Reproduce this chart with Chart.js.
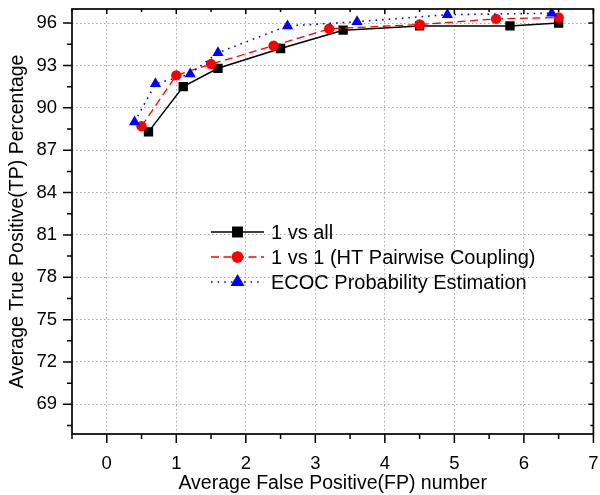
<!DOCTYPE html>
<html>
<head>
<meta charset="utf-8">
<script src="https://cdn.jsdelivr.net/npm/chart.js@4.4.0/dist/chart.umd.min.js"></script>
<style>
    html, body { margin: 0; padding: 0; background: #fff; }
    #wrap { width: 600px; height: 495px; }
</style>
</head>
<body>
<div id="wrap"><canvas id="chartCanvas" width="600" height="495"></canvas></div>
<script>
// data
const seriesNames = ['1 vs all', '1 vs 1 (HT Pairwise Coupling)', 'ECOC Probability Estimation'];
const oneVsAllX = [0.6, 1.1, 1.6, 2.5, 3.4, 4.5, 5.8, 6.5];
const oneVsAllY = [88.3, 91.5, 92.8, 94.2, 95.5, 95.8, 95.8, 96.0];
const oneVsOneX = [0.5, 1.0, 1.5, 2.4, 3.2, 4.5, 5.6, 6.5];
const oneVsOneY = [88.7, 92.3, 93.1, 94.4, 95.6, 95.9, 96.3, 96.4];
const ecocX = [0.4, 0.7, 1.2, 1.6, 2.6, 3.6, 4.9, 6.4];
const ecocY = [89.0, 91.7, 92.4, 93.9, 95.8, 96.1, 96.6, 96.7];
const xTicks = [0, 1, 2, 3, 4, 5, 6, 7];
const yTicks = [69, 72, 75, 78, 81, 84, 87, 90, 93, 96];

const FONT = '"Liberation Sans", Arial, sans-serif';

function toPoints(xs, ys) {
    return xs.map((x, i) => ({ x: x, y: ys[i] }));
}

// frame, tick marks and the in-plot legend
const framePlugin = {
    id: 'frame',
    afterDraw(chart) {
        const ctx = chart.ctx;
        const a = chart.chartArea;
        const xs = chart.scales.x, ys = chart.scales.y;
        ctx.save();
        ctx.strokeStyle = '#000';
        ctx.lineWidth = 1.7;
        ctx.setLineDash([]);
        ctx.strokeRect(a.left, a.top, a.right - a.left, a.bottom - a.top);

        ctx.lineWidth = 1.5;
        ctx.beginPath();
        // x ticks: majors at labels, minors halfway
        for (let v = xs.min; v <= xs.max + 1e-6; v += 0.5) {
            const px = xs.getPixelForValue(v);
            const major = Math.abs(v - Math.round(v)) < 1e-6;
            ctx.moveTo(px, a.bottom); ctx.lineTo(px, a.bottom + (major ? 9 : 5));
            ctx.moveTo(px, a.top); ctx.lineTo(px, a.top + (major ? 5 : 3));
        }
        // y ticks every 1.5
        for (let v = 67.5; v <= ys.max + 1e-6; v += 1.5) {
            const py = ys.getPixelForValue(v);
            const major = yTicks.indexOf(Math.round(v * 10) / 10) >= 0;
            ctx.moveTo(a.left, py); ctx.lineTo(a.left - (major ? 9 : 5), py);
            ctx.moveTo(a.right, py); ctx.lineTo(a.right - (major ? 5 : 3), py);
        }
        ctx.stroke();

        // legend
        const lx = a.left + 139, ly = a.top + 223, rowH = 25;
        chart.data.datasets.forEach((ds, i) => {
            const y = ly + i * rowH;
            ctx.strokeStyle = ds.borderColor;
            ctx.lineWidth = ds.borderWidth;
            ctx.setLineDash(ds.borderDash || []);
            ctx.beginPath();
            ctx.moveTo(lx, y); ctx.lineTo(lx + 53, y);
            ctx.stroke();
            ctx.setLineDash([]);
            Chart.helpers.drawPoint(ctx, {
                pointStyle: ds.pointStyle,
                radius: ds.pointRadius,
                borderWidth: 1,
                rotation: 0
            }, lx + 26.5, y);
            ctx.fillStyle = ds.pointBackgroundColor;
            ctx.fill();
            ctx.fillStyle = '#000';
            ctx.font = '20px ' + FONT;
            ctx.textAlign = 'left';
            ctx.textBaseline = 'middle';
            ctx.fillText(ds.label, lx + 60, y + 1);
        });
        ctx.restore();
    }
};

const canvas = document.getElementById('chartCanvas');
new Chart(canvas, {
    type: 'scatter',
    data: {
        datasets: [
            {
                label: seriesNames[0],
                data: toPoints(oneVsAllX, oneVsAllY),
                showLine: true,
                borderColor: '#000000',
                borderWidth: 1.5,
                pointStyle: 'rect',
                pointRadius: 6.6,
                pointBackgroundColor: '#000000',
                pointBorderColor: '#000000',
                pointBorderWidth: 0,
                order: 3
            },
            {
                label: seriesNames[1],
                data: toPoints(oneVsOneX, oneVsOneY),
                showLine: true,
                borderColor: '#ff0000',
                borderWidth: 1.3,
                borderDash: [8, 4.5],
                pointStyle: 'circle',
                pointRadius: 5.2,
                pointBackgroundColor: '#ff0000',
                pointBorderColor: '#ff0000',
                pointBorderWidth: 0,
                order: 2
            },
            {
                label: seriesNames[2],
                data: toPoints(ecocX, ecocY),
                showLine: true,
                borderColor: '#0000ff',
                borderWidth: 1.6,
                borderDash: [1.6, 5],
                pointStyle: 'triangle',
                pointRadius: 6.5,
                pointBackgroundColor: '#0000ff',
                pointBorderColor: '#0000ff',
                pointBorderWidth: 0,
                order: 1
            }
        ]
    },
    options: {
        responsive: false,
        animation: false,
        devicePixelRatio: 1,
        layout: { padding: { top: 9, right: 2, left: 0, bottom: 0 } },
        plugins: {
            legend: { display: false },
            tooltip: { enabled: false }
        },
        scales: {
            x: {
                type: 'linear',
                min: -0.5,
                max: 7,
                afterBuildTicks: s => { s.ticks = xTicks.map(v => ({ value: v })); },
                afterFit: s => { s.height = 61; s.paddingLeft = 0; s.paddingRight = 0; },
                ticks: {
                    font: { family: FONT, size: 18.5 },
                    color: '#000',
                    padding: 19,
                    maxRotation: 0,
                    autoSkip: false
                },
                grid: { color: '#a8a8a8', lineWidth: 1, drawTicks: false },
                border: { display: false, dash: [1.5, 2.5] },
                title: {
                    display: true,
                    text: 'Average False Positive(FP) number',
                    font: { family: FONT, size: 19.5 },
                    color: '#000',
                    padding: { top: 0, bottom: 0 }
                }
            },
            y: {
                type: 'linear',
                min: 66.9,
                max: 97,
                afterBuildTicks: s => { s.ticks = yTicks.map(v => ({ value: v })); },
                afterFit: s => { s.width = 72; s.paddingTop = 0; s.paddingBottom = 0; },
                ticks: {
                    font: { family: FONT, size: 18.5 },
                    color: '#000',
                    padding: 15
                },
                grid: { color: '#a8a8a8', lineWidth: 1, drawTicks: false },
                border: { display: false, dash: [1.5, 2.5] },
                title: {
                    display: true,
                    text: 'Average True Positive(TP) Percentage',
                    font: { family: FONT, size: 19.5 },
                    color: '#000',
                    padding: { top: 6, bottom: 0 }
                }
            }
        }
    },
    plugins: [framePlugin]
});
</script>
</body>
</html>
